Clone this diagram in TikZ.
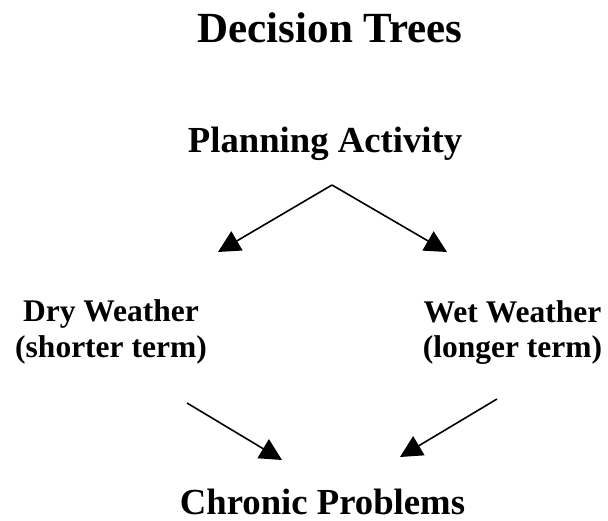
\documentclass[tikz,border=0pt]{standalone}
\usepackage{fontspec}
\setmainfont{Liberation Serif}
\usetikzlibrary{arrows.meta}
\tikzset{
  lbl/.style={anchor=base, inner sep=0pt, font=\bfseries},
  arr/.style={line width=1.6pt, -{Triangle[length=22pt,width=22pt]}}
}
\begin{document}
\begin{tikzpicture}[x=1pt,y=-1pt]
\useasboundingbox (0,0) rectangle (608,521);
\node[lbl, font=\bfseries\fontsize{43}{48}\selectfont] (title) at (330,43) {Decision Trees};
\node[lbl, font=\bfseries\fontsize{36.7}{40}\selectfont] (plan) at (325,153) {Planning Activity};
\node[lbl, font=\bfseries\fontsize{31.5}{35}\selectfont] (dryA) at (111,322) {Dry Weather};
\node[lbl, font=\bfseries\fontsize{31.5}{35}\selectfont] (dryB) at (111,358) {(shorter term)};
\node[lbl, font=\bfseries\fontsize{31.5}{35}\selectfont] (wetA) at (512.5,323) {Wet Weather};
\node[lbl, font=\bfseries\fontsize{31.5}{35}\selectfont] (wetB) at (512.5,358) {(longer term)};
\node[lbl, font=\bfseries\fontsize{36.7}{40}\selectfont] (chronic) at (322.5,514) {Chronic Problems};
\coordinate (apex) at (332,185);
\coordinate (dryin) at (218,252);
\coordinate (wetin) at (447,252);
\coordinate (dryout) at (187,403);
\coordinate (wetout) at (497,399);
\coordinate (chronL) at (282,460);
\coordinate (chronR) at (400,457);
\draw[arr] (apex) -- (dryin);
\draw[arr] (apex) -- (wetin);
\draw[arr] (dryout) -- (chronL);
\draw[arr] (wetout) -- (chronR);
\end{tikzpicture}
\end{document}
